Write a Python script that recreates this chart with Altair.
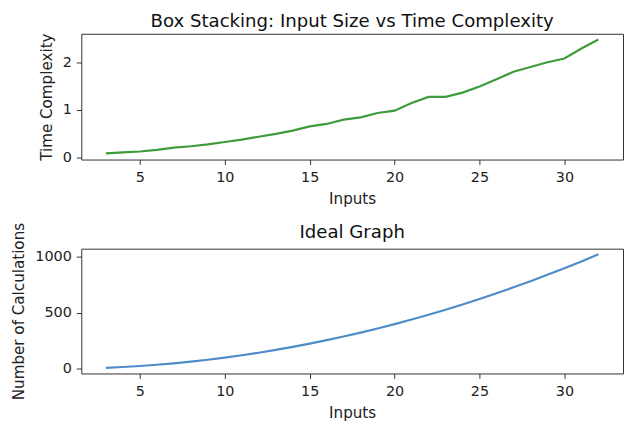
import altair as alt
import pandas as pd

# Top chart: measured time complexity
inputs = [3, 4, 5, 6, 7, 8, 9, 10, 11, 12, 13, 14, 15, 16, 17, 18, 19, 20,
          21, 22, 23, 24, 25, 26, 27, 28, 29, 30, 31, 32]
time_complexity = [0.08, 0.10, 0.12, 0.155, 0.20, 0.23, 0.27, 0.32, 0.37, 0.43,
                   0.49, 0.56, 0.65, 0.70, 0.79, 0.84, 0.93, 0.98, 1.14, 1.27,
                   1.27, 1.36, 1.49, 1.64, 1.80, 1.90, 2.00, 2.08, 2.29, 2.48]

# Bottom chart: ideal number of calculations
ideal_calcs = [9, 16, 25, 36, 49, 64, 81, 100, 121, 144, 169, 196, 225, 256,
               289, 324, 361, 400, 441, 484, 529, 576, 625, 676, 729, 784, 841,
               900, 961, 1024]

x_ticks = [5, 10, 15, 20, 25, 30]
top_y_ticks = [0, 1, 2]
bottom_y_ticks = [0, 500, 1000]

GREEN = "#3f9b3c"
BLUE = "#4d8cc8"
FONT = "DejaVu Sans"

df_top = pd.DataFrame({"n": inputs, "t": time_complexity})
df_bot = pd.DataFrame({"n": inputs, "c": ideal_calcs})

xscale = alt.Scale(domain=[1.55, 33.45], nice=False, zero=False)

top = alt.Chart(df_top).mark_line(color=GREEN, strokeWidth=2.2).encode(
    x=alt.X("n:Q", scale=xscale, axis=alt.Axis(values=x_ticks, title="Inputs")),
    y=alt.Y("t:Q", scale=alt.Scale(domain=[-0.05, 2.6], nice=False, zero=False),
            axis=alt.Axis(values=top_y_ticks, title="Time Complexity", format="d")),
).properties(width=547, height=127,
             title=alt.Title("Box Stacking: Input Size vs Time Complexity",
                             frame="group", offset=2))

bottom = alt.Chart(df_bot).mark_line(color=BLUE, strokeWidth=2.2).encode(
    x=alt.X("n:Q", scale=xscale, axis=alt.Axis(values=x_ticks, title="Inputs")),
    y=alt.Y("c:Q", scale=alt.Scale(domain=[-41.75, 1074.75], nice=False, zero=False),
            axis=alt.Axis(values=bottom_y_ticks, title="Number of Calculations", format="d")),
).properties(width=547, height=126,
             title=alt.Title("Ideal Graph", frame="group", offset=-20))

chart = alt.vconcat(top, bottom, spacing=13).properties(
    padding={"left": 3, "top": 1, "right": 0, "bottom": 0}
).configure_axis(
    labelFont=FONT, labelFontSize=14.5, labelColor="#222",
    titleFont=FONT, titleFontSize=15.3, titleFontWeight="normal", titleColor="#222",
    tickSize=5, tickColor="#333", tickWidth=1, titlePadding=8,
    domain=False, grid=False,
).configure_axisX(
    labelPadding=6,
).configure_axisY(
    labelPadding=5,
).configure_title(
    font=FONT, fontSize=18.3, fontWeight="normal", color="#111",
).configure_view(
    stroke="#333", strokeWidth=1,
)

chart.save("out.html", embed_options={"renderer": "svg", "actions": False})
